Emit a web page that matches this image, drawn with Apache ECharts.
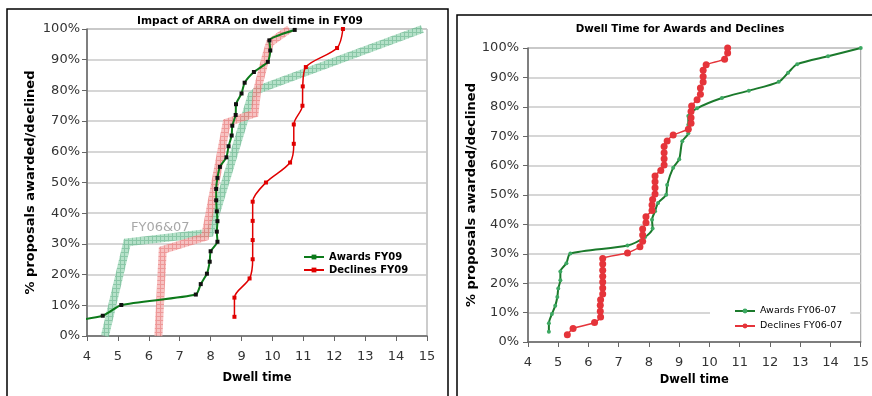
<!DOCTYPE html>
<html>
<head>
<meta charset="utf-8">
<script src="https://cdn.jsdelivr.net/npm/echarts@6/dist/echarts.min.js"></script>
<style>
  html, body {margin:0; padding:0; background:#fff;}
  #main {width:872px; height:396px;}
</style>
</head>
<body>
<div id="main"></div>
<script>
// left chart - FY09
var awardsFY09X = [2.5, 4.51, 5.11, 7.52, 7.68, 7.88, 7.97, 8.0, 8.22, 8.2, 8.22, 8.2, 8.18, 8.18, 8.22, 8.3, 8.51, 8.58, 8.68, 8.7, 8.81, 8.82, 9.0, 9.1, 9.4, 9.85, 9.93, 9.9, 10.72];
var awardsFY09Y = [3.4, 6.6, 10.1, 13.5, 16.9, 20.3, 24.2, 27.6, 30.7, 34, 37.4, 40.6, 44.2, 47.9, 51.5, 55.1, 58.2, 61.8, 65.3, 68.5, 72, 75.5, 79, 82.5, 86, 89.3, 93, 96.3, 99.7];
var declinesFY09X = [8.77, 8.77, 9.26, 9.36, 9.36, 9.36, 9.36, 9.79, 10.57, 10.69, 10.69, 10.97, 10.98, 11.08, 12.09, 12.28];
var declinesFY09Y = [6.25, 12.5, 18.75, 25, 31.25, 37.5, 43.75, 50, 56.5, 62.6, 68.9, 75, 81.3, 87.6, 93.8, 100];

// FY06&07 bands drawn over the FY09 chart
var bandAwardsX = [4.58, 5.3, 7.98, 9.33, 9.55, 14.85];
var bandAwardsY = [0, 30.5, 33.6, 78.5, 80.3, 100];
var bandDeclinesX = [6.31, 6.45, 7.82, 8.52, 9.42, 9.5, 9.8, 9.92, 10.55];
var bandDeclinesY = [0, 28, 32.3, 69.5, 72.5, 79.8, 91.5, 95.5, 100];

// right chart - FY06-07
var awardsFY0607X = [4.69, 4.69, 4.79, 4.9, 4.97, 5.0, 5.07, 5.07, 5.27, 5.4, 7.29, 7.87, 8.12, 8.1, 8.2, 8.3, 8.57, 8.6, 8.8, 9.0, 9.1, 9.3, 9.3, 9.3, 9.59, 10.41, 11.3, 12.29, 12.6, 12.9, 13.92, 15.0];
var awardsFY0607Y = [3.5, 6.4, 9.5, 12.3, 15.3, 18.2, 21, 24, 26.8, 30.1, 32.8, 35.7, 38.6, 41.6, 44.5, 47.3, 50.1, 53.4, 59.3, 62.2, 68.3, 71, 73.9, 76.9, 79.5, 83, 85.5, 88.5, 91.6, 94.5, 97.2, 100];
var declinesFY0607X = [5.3, 5.49, 6.2, 6.4, 6.39, 6.39, 6.4, 6.47, 6.47, 6.47, 6.47, 6.47, 6.47, 6.47, 7.29, 7.7, 7.79, 7.79, 7.79, 7.9, 7.9, 8.1, 8.1, 8.12, 8.2, 8.2, 8.2, 8.2, 8.39, 8.5, 8.5, 8.5, 8.5, 8.6, 8.8, 9.3, 9.39, 9.39, 9.39, 9.41, 9.59, 9.7, 9.7, 9.79, 9.79, 9.79, 9.89, 10.5, 10.6, 10.6];
var declinesFY0607Y = [2.5, 4.6, 6.6, 8.5, 10.5, 12.5, 14.4, 16.3, 18.4, 20.4, 22.4, 24.4, 26.5, 28.4, 30.3, 32.4, 34.3, 36.4, 38.4, 40.6, 42.6, 44.7, 46.6, 48.5, 50.3, 52.5, 54.5, 56.5, 58.3, 60.2, 62.3, 64.4, 66.5, 68.4, 70.4, 72.4, 74.4, 76.3, 78.4, 80.3, 82.4, 84.3, 86.4, 88.4, 90.3, 92.4, 94.3, 96.2, 98.3, 100];

var xTicks = [4, 5, 6, 7, 8, 9, 10, 11, 12, 13, 14, 15];

function pairs(xs, ys) {
    var out = [];
    for (var i = 0; i < xs.length; i++) {
        out.push([xs[i], ys[i]]);
    }
    return out;
}

// little cross hatch like the excel fill
function hatch(bg, fg) {
    var c = document.createElement('canvas');
    c.width = 4; c.height = 4;
    var g = c.getContext('2d');
    g.fillStyle = bg;
    g.fillRect(0, 0, 4, 4);
    g.fillStyle = fg;
    g.fillRect(0, 0, 4, 1);
    g.fillRect(0, 0, 1, 4);
    return {image: c, repeat: 'repeat'};
}

var font = 'DejaVu Sans';

function xAxisCfg(gridIndex, margin, gap) {
    return {
        gridIndex: gridIndex,
        type: 'value',
        min: 4, max: 15, interval: 1,
        name: 'Dwell time',
        nameLocation: 'middle',
        nameGap: gap,
        nameTextStyle: {fontFamily: font, fontWeight: 'bold', fontSize: 11.5, color: '#000'},
        axisLine: {show: true, lineStyle: {color: '#666', width: 1.5}},
        axisTick: {show: true, length: 5, lineStyle: {color: '#666'}},
        axisLabel: {fontFamily: font, fontSize: 13, color: '#333', margin: margin,
            formatter: function (v) { return xTicks.indexOf(v) >= 0 ? String(v) : ''; }},
        splitLine: {show: false}
    };
}

function yAxisCfg(gridIndex, gap, margin) {
    return {
        gridIndex: gridIndex,
        type: 'value',
        min: 0, max: 100, interval: 10,
        name: '% proposals awarded/declined',
        nameLocation: 'middle',
        nameGap: gap,
        nameTextStyle: {fontFamily: font, fontWeight: 'bold', fontSize: 13, color: '#000'},
        axisLine: {show: true, lineStyle: {color: '#666', width: 1.5}},
        axisTick: {show: true, length: 5, lineStyle: {color: '#666'}},
        axisLabel: {fontFamily: font, fontSize: 13, color: '#333', margin: margin, formatter: '{value}%'},
        splitLine: {show: true, lineStyle: {color: '#c8c8c8', width: 1.5}}
    };
}

var chart = echarts.init(document.getElementById('main'), null, {renderer: 'canvas'});

chart.setOption({
    backgroundColor: '#fff',
    animation: false,
    title: [
        {text: 'Impact of ARRA on dwell time in FY09', left: 245, top: 11, textAlign: 'center',
            textStyle: {fontFamily: font, fontWeight: 'bold', fontSize: 10.6, color: '#000'}},
        {text: 'Dwell Time for Awards and Declines', left: 675, top: 19, textAlign: 'center',
            textStyle: {fontFamily: font, fontWeight: 'bold', fontSize: 10.3, color: '#000'}}
    ],
    grid: [
        {left: 87, top: 29, width: 340, height: 307, show: true, borderColor: '#999', borderWidth: 1},
        {left: 528, top: 48, width: 335, height: 294, show: true, borderColor: '#999', borderWidth: 1}
    ],
    xAxis: [xAxisCfg(0, 14, 36), xAxisCfg(1, 14, 30)],
    yAxis: [yAxisCfg(0, 50, 7), yAxisCfg(1, 32, 9)],
    legend: [
        {
            orient: 'vertical', left: 298, top: 247,
            itemWidth: 20, itemHeight: 6, itemGap: 3,
            textStyle: {fontFamily: font, fontWeight: 'bold', fontSize: 10, color: '#000'},
            data: [
                {name: 'Awards FY09', itemStyle: {color: '#0c7a1a'}},
                {name: 'Declines FY09'}
            ]
        },
        {
            orient: 'vertical', left: 710, top: 300,
            padding: [6, 8, 3, 24],
            backgroundColor: '#fff',
            itemWidth: 20, itemHeight: 6, itemGap: 5,
            textStyle: {fontFamily: font, fontSize: 9.5, color: '#000'},
            data: ['Awards FY06-07', 'Declines FY06-07']
        }
    ],
    graphic: [
        {type: 'rect', shape: {x: 7, y: 9, width: 441, height: 400}, style: {fill: null, stroke: '#000', lineWidth: 1.5}, z: 100},
        {type: 'rect', shape: {x: 457, y: 15, width: 425, height: 400}, style: {fill: null, stroke: '#000', lineWidth: 1.5}, z: 100},
        {type: 'text', left: 131, top: 221, style: {text: 'FY06&07', fontFamily: font, fontSize: 13, fill: '#a8a8a8'}, z: 100}
    ],
    series: [
        {
            name: 'band awards', type: 'line', xAxisIndex: 0, yAxisIndex: 0,
            data: pairs(bandAwardsX, bandAwardsY),
            showSymbol: false, silent: true, z: 1,
            lineStyle: {width: 8, color: hatch('#a9dcc0', '#76be98'), opacity: 0.85, cap: 'butt', join: 'miter'}
        },
        {
            name: 'band declines', type: 'line', xAxisIndex: 0, yAxisIndex: 0,
            data: pairs(bandDeclinesX, bandDeclinesY),
            showSymbol: false, silent: true, z: 1,
            lineStyle: {width: 8, color: hatch('#f6b3b3', '#ea7f7f'), opacity: 0.8, cap: 'butt', join: 'miter'}
        },
        {
            name: 'Awards FY09', type: 'line', xAxisIndex: 0, yAxisIndex: 0,
            data: pairs(awardsFY09X, awardsFY09Y),
            smooth: 0.2, symbol: 'rect', symbolSize: 4, z: 3,
            itemStyle: {color: '#111'},
            lineStyle: {color: '#0c7a1a', width: 2}
        },
        {
            name: 'Declines FY09', type: 'line', xAxisIndex: 0, yAxisIndex: 0,
            data: pairs(declinesFY09X, declinesFY09Y),
            smooth: 0.3, symbol: 'rect', symbolSize: 4, z: 3,
            itemStyle: {color: '#e00000'},
            lineStyle: {color: '#e00000', width: 1.5}
        },
        {
            name: 'Awards FY06-07', type: 'line', xAxisIndex: 1, yAxisIndex: 1,
            data: pairs(awardsFY0607X, awardsFY0607Y),
            smooth: 0.25, symbol: 'circle', symbolSize: 4, z: 3,
            itemStyle: {color: '#3da862'},
            lineStyle: {color: '#1b7a2c', width: 2}
        },
        {
            name: 'Declines FY06-07', type: 'line', xAxisIndex: 1, yAxisIndex: 1,
            data: pairs(declinesFY0607X, declinesFY0607Y),
            smooth: 0.2, symbol: 'circle', symbolSize: 7, z: 3,
            itemStyle: {color: '#e5343a'},
            lineStyle: {color: '#e5343a', width: 1.5}
        }
    ]
});
</script>
</body>
</html>
